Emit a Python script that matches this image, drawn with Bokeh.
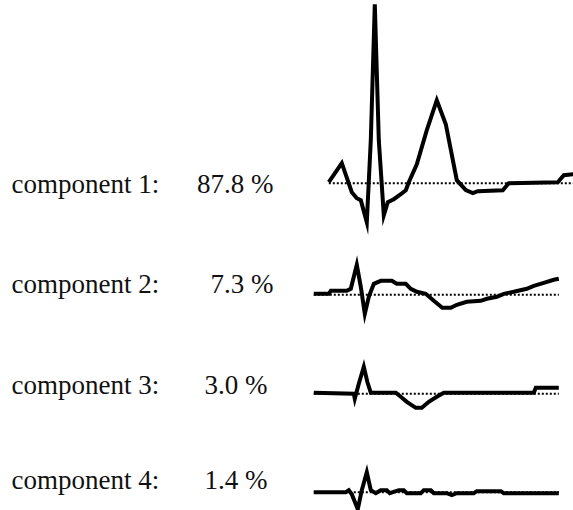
from bokeh.plotting import figure
from bokeh.models import Range1d
from bokeh.core.properties import value
from bokeh.embed import file_html
from bokeh.resources import INLINE

# ---- data ----
labels = ["component 1:", "component 2:", "component 3:", "component 4:"]
percents = [87.8, 7.3, 3.0, 1.4]

# waveform samples: time (arbitrary units) and amplitude (arbitrary units, + is up)
c1_t = [0, 13, 23, 28, 32, 38, 42, 46, 50, 55, 59, 65, 72, 77, 80, 88, 98, 108, 117, 128,
        137, 144, 149, 174, 180, 229, 235, 245]
c1_v = [1, 20, -9, -15, -17, -39, 43, 179, 43, -32, -19, -16, -11, -7, 1, 19, 53, 83, 59, 3,
        -7, -10, -8, -7, 0, 1, 8, 9]

c2_t = [0, 15, 17, 33, 37, 43, 47, 51, 55, 60, 67, 78, 83, 92, 97, 103, 112, 120, 128.5, 137,
        143, 153, 167, 173, 183, 190, 200, 213, 220, 230, 240, 245]
c2_v = [1, 1, 4, 4, 6, 30, 8, -19, -2, 11, 14, 14, 11, 11, 6, 3, 1, -6, -13, -13,
        -10, -7, -6, -4, -2, 1, 3, 6, 9, 12, 15, 16]

c3_t = [0, 40, 41, 45, 50, 53.5, 57, 82, 87, 93, 102, 108, 115, 123, 130, 220, 222, 245]
c3_v = [1, 0, -5, 10, 27, 12, 1, 1, -3, -8, -14, -14, -8, -3, 1, 1, 6, 6]

c4_t = [0, 32, 35, 38, 44, 48, 53, 57, 62, 67, 73, 76, 85, 90, 93, 107, 110, 117, 120, 133,
        138, 143, 160, 163, 187, 190, 245]
c4_v = [0, 0, 2, -2, -17, 2, 20, 2, -1, 2, 2, -1, 2, 2, -1, -1, 2, 2, -1, -1,
        -3, -1, -1, 1, 1, -1, -1]

series_t = [c1_t, c2_t, c3_t, c4_t]
series_v = [c1_v, c2_v, c3_v, c4_v]

# ---- layout (page pixel coordinates) ----
W, H = 573, 510
row_baseline = [182.7, 294.3, 393.3, 491.7]   # zero line of each trace
row_x0 = [328.3, 313.3, 313.3, 313.3]          # start of each trace
text_mid = [183.3, 283.3, 384.2, 479.5]
pct_right = [273, 273, 267, 267]
label_left = 11

p = figure(width=W, height=H, output_backend="svg", toolbar_location=None,
           x_range=Range1d(0, W), y_range=Range1d(H, 0),
           min_border=0, min_border_left=0, min_border_right=0,
           min_border_top=0, min_border_bottom=0)
p.axis.visible = False
p.grid.visible = False
p.outline_line_color = None
p.background_fill_color = "white"
p.border_fill_color = "white"

for i in range(4):
    t = series_t[i]
    v = series_v[i]
    xs = [row_x0[i] + tt for tt in t]
    ys = [row_baseline[i] - vv for vv in v]
    # dotted zero line
    p.line([xs[0], xs[-1]], [row_baseline[i], row_baseline[i]],
           line_color="black", line_width=2, line_dash="2 2")
    p.line(xs, ys, line_color="black", line_width=4, line_join="miter")

fs = "27px"
p.text(x=[label_left] * 4, y=text_mid, text=labels,
       text_font=value("Liberation Serif"), text_font_size=fs,
       text_align="left", text_baseline="middle", text_color="#111111")
p.text(x=pct_right, y=text_mid, text=[f"{v:.1f} %" for v in percents],
       text_font=value("Liberation Serif"), text_font_size=fs,
       text_align="right", text_baseline="middle", text_color="#111111")

open("out.html", "w").write(file_html(p, INLINE))
